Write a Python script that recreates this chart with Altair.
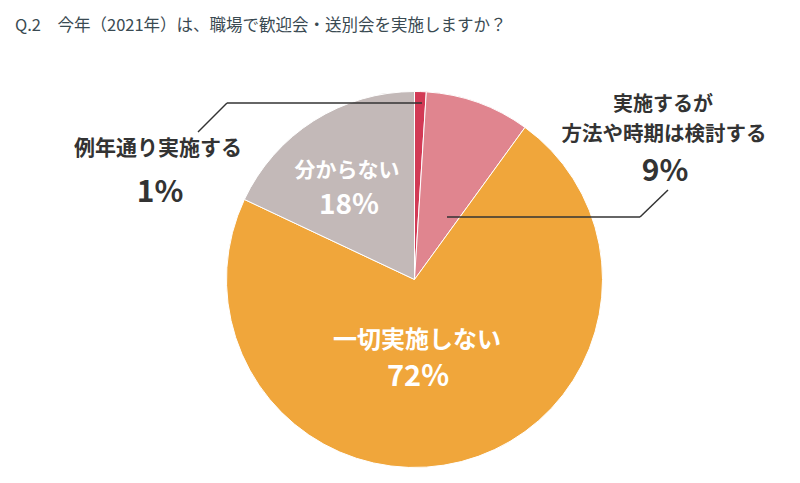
import altair as alt
import pandas as pd

# ---- data ----
title_text = "Q.2　今年（2021年）は、職場で歓迎会・送別会を実施しますか？"
categories = ["例年通り実施する", "実施するが方法や時期は検討する", "一切実施しない", "分からない"]
values = [1, 9, 72, 18]
colors = ["#d23a55", "#e0858f", "#f0a63b", "#c3b9b8"]

df = pd.DataFrame({"cat": categories, "val": values, "idx": list(range(len(values)))})

FONT = "Noto Sans CJK JP"
DARK = "#333333"

pie = alt.Chart(df).mark_arc(radius=188, stroke="white", strokeWidth=1).encode(
    theta=alt.Theta("val:Q", stack=True),
    order=alt.Order("idx:Q"),
    color=alt.Color("cat:N", scale=alt.Scale(domain=categories, range=colors), legend=None),
    x=alt.value(406.5),
    y=alt.value(271.5),
)


def label(text, x, y, size, color=DARK, weight="bold"):
    return alt.Chart(pd.DataFrame({"t": [text]})).mark_text(
        font=FONT, fontSize=size, fontWeight=weight, color=color,
        align="center", baseline="middle",
    ).encode(text="t:N", x=alt.value(x), y=alt.value(y))


def seg(x1, y1, x2, y2):
    return alt.Chart(pd.DataFrame({"a": [0]})).mark_rule(color=DARK, strokeWidth=1.5).encode(
        x=alt.value(x1), y=alt.value(y1), x2=alt.value(x2), y2=alt.value(y2)
    )


title = alt.Chart(pd.DataFrame({"t": [title_text]})).mark_text(
    font=FONT, fontSize=16.5, fontWeight="normal", color="#3a4a52",
    align="left", baseline="middle",
).encode(text="t:N", x=alt.value(7), y=alt.value(18))

layers = [
    pie,
    title,
    # 例年通り実施する 1%
    seg(190, 124, 219, 95),
    seg(219, 95, 414, 95),
    label(categories[0], 150, 141, 21),
    label(f"{values[0]}%", 152, 185, 30),
    # 実施するが 方法や時期は検討する 9%
    seg(439, 209, 632, 209),
    seg(632, 209, 660, 182),
    label("実施するが", 655, 97, 20),
    label("方法や時期は検討する", 656, 127, 20.5),
    label(f"{values[1]}%", 657, 164, 30),
    # 一切実施しない 72%
    label(categories[2], 409, 333, 24, color="white"),
    label(f"{values[2]}%", 410, 369, 29, color="white"),
    # 分からない 18%
    label(categories[3], 339, 163, 21, color="white"),
    label(f"{values[3]}%", 341, 198, 28, color="white"),
]

chart = alt.layer(*layers).properties(
    width=784,
    height=467,
    padding=0,
    autosize=alt.AutoSizeParams(type="fit", contains="padding"),
).configure_view(stroke=None)

chart.save("out.html", embed_options={"renderer": "svg", "actions": False})
